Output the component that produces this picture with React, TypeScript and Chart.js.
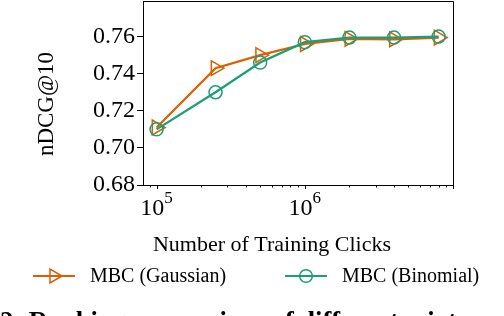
import React, { useEffect, useRef } from 'react';
import { Chart, registerables } from 'chart.js';

Chart.register(...registerables);

// ---- data ----
const clicks = [1e5, 2.5e5, 5e5, 1e6, 2e6, 4e6, 8e6];
const gaussian = [0.711, 0.743, 0.75, 0.756, 0.7588, 0.7585, 0.7595];
const binomial = [0.71, 0.73, 0.746, 0.757, 0.7595, 0.7595, 0.76];
const yTickValues = [0.68, 0.7, 0.72, 0.74, 0.76];
const xMajorTicks = [1e5, 1e6];
const xMajorExponents = ['5', '6'];
const seriesNames = ['MBC (Gaussian)', 'MBC (Binomial)'];
const xTitle = 'Number of Training Clicks';
const yTitle = 'nDCG@10';
const caption = '2: Ranking comparison of different mixture components';

const ORANGE = '#d95f02';
const GREEN = '#1b9e77';
const FONT = '"Liberation Serif", "Times New Roman", serif';

function drawMarker(ctx: CanvasRenderingContext2D, style: string, x: number, y: number, r: number, color: string, lw: number) {
  ctx.save();
  ctx.strokeStyle = color;
  ctx.lineWidth = lw;
  ctx.beginPath();
  if (style === 'triangle') {
    let rad = Math.PI / 2;
    for (let k = 0; k < 3; k++) {
      const px = x + Math.sin(rad) * r;
      const py = y - Math.cos(rad) * r;
      if (k === 0) ctx.moveTo(px, py); else ctx.lineTo(px, py);
      rad += (2 * Math.PI) / 3;
    }
    ctx.closePath();
  } else {
    ctx.arc(x, y, r, 0, Math.PI * 2);
  }
  ctx.stroke();
  ctx.restore();
}

const decorations = {
  id: 'decorations',
  afterDraw(chart: any) {
    const ctx: CanvasRenderingContext2D = chart.ctx;
    const { left, right, top, bottom } = chart.chartArea;
    const xs = chart.scales.x;
    ctx.save();
    // frame (top and right)
    ctx.strokeStyle = '#000';
    ctx.lineWidth = 1;
    ctx.beginPath();
    ctx.moveTo(left, top + 0.5);
    ctx.lineTo(right + 0.5, top + 0.5);
    ctx.lineTo(right + 0.5, bottom);
    ctx.stroke();

    // x ticks (log minor + major)
    for (let e = 4; e <= 7; e++) {
      for (let s = 1; s <= 9; s++) {
        const v = s * Math.pow(10, e);
        const px = xs.getPixelForValue(v);
        if (px < left - 0.1 || px > right + 0.1) continue;
        const len = s === 1 ? 4 : 2.5;
        ctx.beginPath();
        ctx.moveTo(Math.round(px) + 0.5, bottom);
        ctx.lineTo(Math.round(px) + 0.5, bottom + len);
        ctx.stroke();
      }
    }

    // x tick labels 10^n
    ctx.fillStyle = '#000';
    ctx.textBaseline = 'alphabetic';
    ctx.textAlign = 'left';
    xMajorTicks.forEach((v, i) => {
      const px = xs.getPixelForValue(v);
      ctx.font = `24px ${FONT}`;
      const w1 = ctx.measureText('10').width;
      ctx.font = `17px ${FONT}`;
      const w2 = ctx.measureText(xMajorExponents[i]).width;
      const x0 = px - (w1 + w2) / 2;
      ctx.font = `24px ${FONT}`;
      ctx.fillText('10', x0, 215);
      ctx.font = `17px ${FONT}`;
      ctx.fillText(xMajorExponents[i], x0 + w1, 203);
    });

    // x title
    ctx.font = `22px ${FONT}`;
    ctx.textAlign = 'center';
    ctx.fillText(xTitle, 272, 251);

    // y title
    ctx.save();
    ctx.translate(47, 104);
    ctx.rotate(-Math.PI / 2);
    ctx.font = `23px ${FONT}`;
    ctx.textAlign = 'center';
    ctx.textBaseline = 'middle';
    ctx.fillText(yTitle, 0, 0);
    ctx.restore();

    // legend
    const ly = 276;
    const items = [
      { x0: 33, x1: 75, tx: 90, color: ORANGE, style: 'triangle', r: 8, label: seriesNames[0] },
      { x0: 285, x1: 327, tx: 342, color: GREEN, style: 'circle', r: 6.3, label: seriesNames[1] },
    ];
    items.forEach((it) => {
      ctx.strokeStyle = it.color;
      ctx.lineWidth = 2.2;
      ctx.beginPath();
      ctx.moveTo(it.x0, ly);
      ctx.lineTo(it.x1, ly);
      ctx.stroke();
      drawMarker(ctx, it.style, (it.x0 + it.x1) / 2, ly, it.r, it.color, 1.5);
      ctx.fillStyle = '#000';
      ctx.font = `20px ${FONT}`;
      ctx.textAlign = 'left';
      ctx.textBaseline = 'middle';
      ctx.fillText(it.label, it.tx, ly + 1);
    });
    ctx.restore();
  },
};

export default function App() {
  const ref = useRef<HTMLCanvasElement | null>(null);
  useEffect(() => {
    if (!ref.current) return;
    const chart = new Chart(ref.current, {
      type: 'line',
      data: {
        datasets: [
          {
            label: seriesNames[0],
            data: clicks.map((x, i) => ({ x, y: gaussian[i] })),
            borderColor: ORANGE,
            backgroundColor: 'rgba(0,0,0,0)',
            borderWidth: 2.2,
            pointStyle: 'triangle',
            pointRotation: 90,
            pointRadius: 8.5,
            pointBorderWidth: 1.5,
            pointBorderColor: ORANGE,
            pointBackgroundColor: 'rgba(0,0,0,0)',
            tension: 0,
            order: 1,
            clip: false as any,
          },
          {
            label: seriesNames[1],
            data: clicks.map((x, i) => ({ x, y: binomial[i] })),
            borderColor: GREEN,
            backgroundColor: 'rgba(0,0,0,0)',
            borderWidth: 2.2,
            pointStyle: 'circle',
            pointRadius: 6.5,
            pointBorderWidth: 1.5,
            pointBorderColor: GREEN,
            pointBackgroundColor: 'rgba(0,0,0,0)',
            tension: 0,
            order: 0,
            clip: false as any,
          },
        ],
      },
      options: {
        animation: false,
        responsive: false,
        devicePixelRatio: 1,
        events: [],
        layout: { autoPadding: false, padding: { left: 0, top: 1, right: 51, bottom: 0 } },
        plugins: { legend: { display: false }, tooltip: { enabled: false } },
        scales: {
          x: {
            type: 'logarithmic',
            min: 81000,
            max: 1e7,
            grid: { drawOnChartArea: false, drawTicks: false },
            border: { display: true, color: '#000', width: 1 },
            ticks: { display: false },
            afterFit: (s: any) => {
              s.height = 131;
              s.paddingLeft = 0;
              s.paddingRight = 0;
            },
          },
          y: {
            type: 'linear',
            min: 0.68,
            max: 0.7792,
            afterBuildTicks: (s: any) => {
              s.ticks = yTickValues.map((v) => ({ value: v }));
            },
            ticks: {
              includeBounds: false,
              font: { family: FONT, size: 24 },
              color: '#000',
              padding: 2,
              callback: (v: any) => Number(v).toFixed(2),
            },
            grid: { drawOnChartArea: false, tickLength: 6, color: '#000' },
            border: { display: true, color: '#000', width: 1 },
            afterFit: (s: any) => {
              s.width = 143;
              s.paddingTop = 0;
              s.paddingBottom = 0;
            },
          },
        },
      },
      plugins: [decorations],
    });
    return () => chart.destroy();
  }, []);

  return (
    <div style={{ position: 'absolute', left: 0, top: 0, width: 504, height: 316, overflow: 'hidden', background: '#fff' }}>
      <canvas ref={ref} width={504} height={316} style={{ width: 504, height: 316, display: 'block' }} />
      <div
        style={{
          position: 'absolute',
          left: 0,
          top: 308,
          whiteSpace: 'nowrap',
          fontFamily: FONT,
          fontWeight: 'bold',
          fontSize: 26.5,
          lineHeight: '26.5px',
          color: '#000',
        }}
      >
        {caption}
      </div>
    </div>
  );
}
